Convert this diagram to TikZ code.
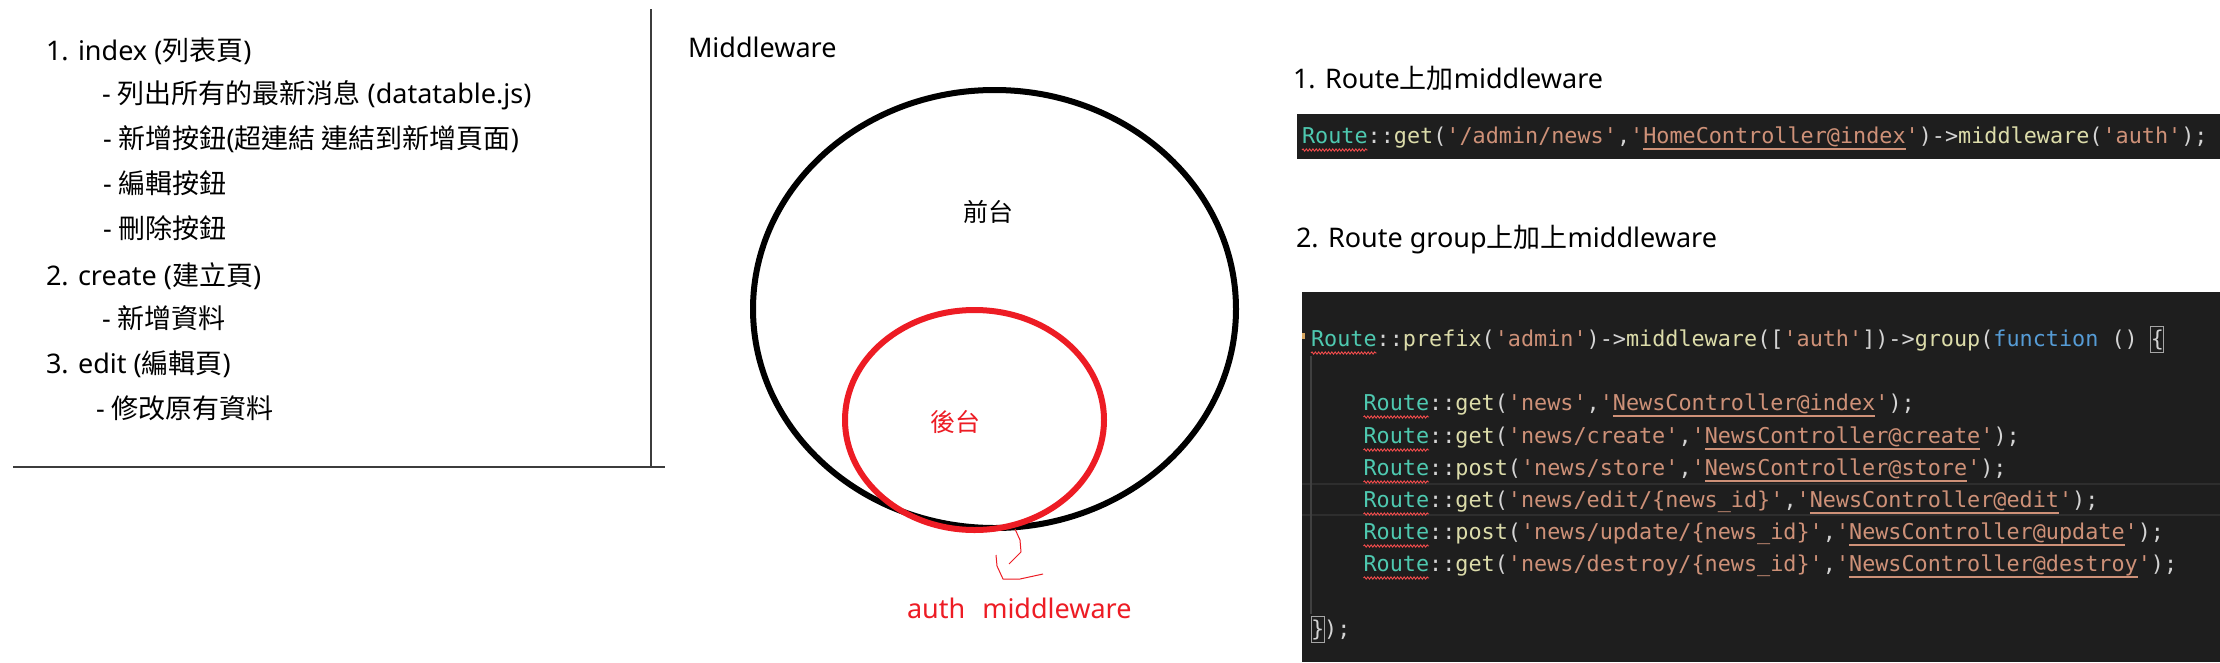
\documentclass[tikz,border=0pt]{standalone}
\usepackage{fontspec}
\setmainfont{Noto Sans}
\setmonofont{DejaVu Sans Mono}
\newfontfamily\cjk{Noto Sans CJK TC}
\usetikzlibrary{decorations.pathmorphing}
\definecolor{vsbg}{HTML}{1E1E1E}
\definecolor{vsteal}{HTML}{4EC9B0}
\definecolor{vsfn}{HTML}{DCDCAA}
\definecolor{vsstr}{HTML}{CE9178}
\definecolor{vspun}{HTML}{D4D4D4}
\definecolor{vskw}{HTML}{569CD6}
\definecolor{vserr}{HTML}{F14C4C}
\definecolor{vsguide}{HTML}{404040}
\definecolor{vscur}{HTML}{2E2E2E}
\definecolor{pred}{HTML}{ED1C24}
\definecolor{sepline}{HTML}{3C3C3C}
\newcommand\cR[1]{\textcolor{vsteal}{#1}}
\newcommand\cF[1]{\textcolor{vsfn}{#1}}
\newcommand\cS[1]{\textcolor{vsstr}{#1}}
\newcommand\cP[1]{\textcolor{vspun}{#1}}
\newcommand\cK[1]{\textcolor{vskw}{#1}}
\newsavebox\ulbox
\newcommand\ulc[1]{\sbox\ulbox{#1}\rlap{\textcolor{vsstr}{\rule[-7pt]{\wd\ulbox}{2pt}}}\usebox\ulbox}
\tikzset{
  txt/.style={anchor=base west, inner sep=0pt, outer sep=0pt},
  listtxt/.style={txt, font=\fontsize{27}{31}\selectfont},
  headtxt/.style={txt, font=\fontsize{27}{32}\selectfont},
  codetxt/.style={txt, font=\ttfamily\fontsize{21.8}{26}\selectfont},
  wavy/.style={draw=vserr, line width=0.9pt, decorate, decoration={snake, amplitude=1.1pt, segment length=3.3pt}},
  bracketbox/.style={draw=gray!70, line width=1pt},
  guide/.style={draw=vsguide, line width=1.2pt},
  curline/.style={draw=vscur, line width=2pt},
  sep/.style={draw=sepline, line width=1.3pt},
  bigellipse/.style={draw=black, line width=6pt},
  redellipse/.style={draw=pred, line width=6pt},
  scribble/.style={draw=pred, line width=1pt, line join=round},
}
\begin{document}
\begin{tikzpicture}[x=1pt, y=-1pt]
\useasboundingbox (0,0) rectangle (2220,662);
\fill[white] (0,0) rectangle (2220,662);

% ---------- left panel ----------
\node[listtxt] (t1) at (46,60)  {1. index ({\cjk 列表頁})};
\node[listtxt] (t2) at (102,103) {- {\cjk 列出所有的最新消息} (datatable.js)};
\node[listtxt] (t3) at (103,148) {- {\cjk 新增按鈕}({\cjk 超連結 連結到新增頁面})};
\node[listtxt] (t4) at (103,193) {- {\cjk 編輯按鈕}};
\node[listtxt] (t5) at (103,238) {- {\cjk 刪除按鈕}};
\node[listtxt] (t6) at (46,285) {2. create ({\cjk 建立頁})};
\node[listtxt] (t7) at (102,328) {- {\cjk 新增資料}};
\node[listtxt] (t8) at (46,373) {3. edit ({\cjk 編輯頁})};
\node[listtxt] (t9) at (96,418) {- {\cjk 修改原有資料}};

\coordinate (vtop) at (651,9);
\coordinate (corner) at (651,467);
\coordinate (hleft) at (13,467);
\coordinate (hright) at (665,467);
\draw[sep] (vtop) -- (corner);
\draw[sep] (hleft) -- (hright);

% ---------- middle: middleware diagram ----------
\node[headtxt] (mw) at (688,57) {Middleware};
\draw[bigellipse] (994.5,309) ellipse [x radius=241.5pt, y radius=219pt];
\draw[redellipse] (974.5,420) ellipse [x radius=129.5pt, y radius=110pt];
\node[inner sep=0pt, font=\cjk\fontsize{25}{28}\selectfont] (front) at (988,212) {前台};
\node[inner sep=0pt, text=pred, font=\cjk\fontsize{25}{28}\selectfont] (back) at (955,422) {後台};
\draw[scribble] (1015,529) -- (1020,540) -- (1021,552) -- (1009,564);
\draw[scribble] (996,555) -- (997,566) -- (1003,579) -- (1020,579) -- (1043,574);
\node[headtxt, text=pred] (auth) at (907,618) {auth\hspace{17pt}middleware};

% ---------- right: code ----------
\node[headtxt] (h1) at (1293,88) {1. Route{\cjk 上加}middleware};
\fill[vsbg] (1297,114) rectangle (2220,159);
\node[codetxt] (c1) at (1302,143) {\cR{Route}\cP{::}\cF{get}\cP{(}\cS{'/admin/news'}\cP{,}\cS{'}\ulc{\cS{HomeController@index}}\cS{'}\cP{)->}\cF{middleware}\cP{(}\cS{'auth'}\cP{);}};
\draw[wavy] ([yshift=-7pt]c1.base west) -- ++(65.6,0);

\node[headtxt] (h2) at (1296,247) {2. Route group{\cjk 上加上}middleware};
\fill[vsbg] (1302,292) rectangle (2220,662);
\draw[curline] (1302,484) -- (2220,484);
\draw[curline] (1302,515) -- (2220,515);
\fill[vsstr!80!yellow] (1302,333) rectangle (1304.5,339);

\node[codetxt] (l1) at (1311,346) {\cR{Route}\cP{::}\cF{prefix}\cP{(}\cS{'admin'}\cP{)->}\cF{middleware}\cP{([}\cS{'auth'}\cP{])->}\cF{group}\cP{(}\cK{function}\ \cP{() \{}};
\node[codetxt] (l3) at (1363.5,410) {\cR{Route}\cP{::}\cF{get}\cP{(}\cS{'news'}\cP{,}\cS{'}\ulc{\cS{NewsController@index}}\cS{'}\cP{);}};
\node[codetxt] (l4) at (1363.5,443) {\cR{Route}\cP{::}\cF{get}\cP{(}\cS{'news/create'}\cP{,}\cS{'}\ulc{\cS{NewsController@create}}\cS{'}\cP{);}};
\node[codetxt] (l5) at (1363.5,475) {\cR{Route}\cP{::}\cF{post}\cP{(}\cS{'news/store'}\cP{,}\cS{'}\ulc{\cS{NewsController@store}}\cS{'}\cP{);}};
\node[codetxt] (l6) at (1363.5,507) {\cR{Route}\cP{::}\cF{get}\cP{(}\cS{'news/edit/\{news\_id\}'}\cP{,}\cS{'}\ulc{\cS{NewsController@edit}}\cS{'}\cP{);}};
\node[codetxt] (l7) at (1363.5,539) {\cR{Route}\cP{::}\cF{post}\cP{(}\cS{'news/update/\{news\_id\}'}\cP{,}\cS{'}\ulc{\cS{NewsController@update}}\cS{'}\cP{);}};
\node[codetxt] (l8) at (1363.5,571) {\cR{Route}\cP{::}\cF{get}\cP{(}\cS{'news/destroy/\{news\_id\}'}\cP{,}\cS{'}\ulc{\cS{NewsController@destroy}}\cS{'}\cP{);}};
\node[codetxt] (l10) at (1311,636) {\cP{\});}};

\foreach \n in {l1,l3,l4,l5,l6,l7,l8}{
  \draw[wavy] ([yshift=-7pt]\n.base west) -- ++(65.6,0);
}
\draw[guide] ([yshift=-10pt]l1.base west) -- ([yshift=22pt]l10.base west);
\draw[bracketbox] ([xshift=839.7pt,yshift=20pt]l1.base west) rectangle ++(13.1,26);
\draw[bracketbox] ([yshift=20pt]l10.base west) rectangle ++(13.1,26);
\end{tikzpicture}
\end{document}
